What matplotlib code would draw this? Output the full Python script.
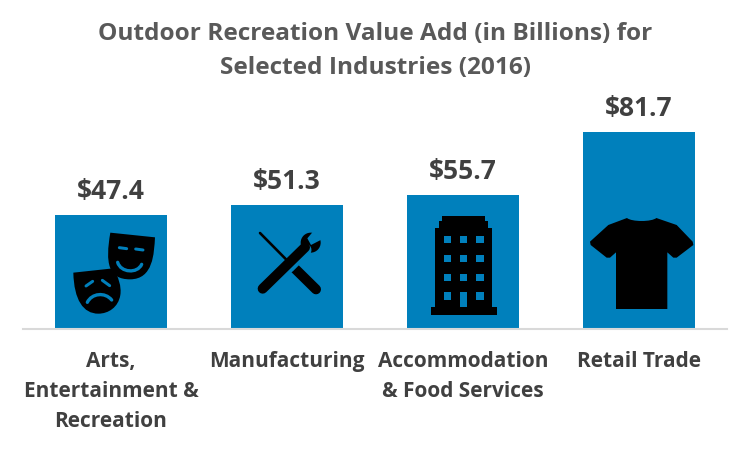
import matplotlib
matplotlib.use("Agg")
import matplotlib.pyplot as plt
from matplotlib.path import Path
from matplotlib.patches import PathPatch, Polygon, Rectangle, Circle

categories = ["Arts,\nEntertainment &\nRecreation", "Manufacturing",
              "Accommodation\n& Food Services", "Retail Trade"]
values = [47.4, 51.3, 55.7, 81.7]
value_labels = ["$47.4", "$51.3", "$55.7", "$81.7"]
title = "Outdoor Recreation Value Add (in Billions) for\nSelected Industries (2016)"

BLUE = "#0080BC"
DARK = "#404040"
plt.rcParams["font.family"] = ["Open Sans", "DejaVu Sans"]

fig = plt.figure(figsize=(7.5, 4.49), dpi=100)

# bars, 704px wide plot with baseline at y=328
ax = fig.add_axes([23 / 750, 1 - 328.5 / 449, 704 / 750, 270 / 449])
x = list(range(len(values)))
ax.bar(x, values, width=112 / 176, color=BLUE)
ax.set_xlim(-0.5, 3.5)
ax.set_ylim(0, 270 / 2.4)
for s in ["top", "left", "right"]:
    ax.spines[s].set_visible(False)
ax.spines["bottom"].set_color("#D9D9D9")
ax.spines["bottom"].set_linewidth(1.5)
ax.set_yticks([])
ax.set_xticks(x)
ax.set_xticklabels(categories, fontsize=15, fontweight="bold", color=DARK, linespacing=1.55)
ax.tick_params(axis="x", length=0, pad=16.5)
for xi, v, lab in zip(x, values, value_labels):
    ax.annotate(lab, (xi, v), xytext=(0, 7.2), textcoords="offset points", ha="center", va="bottom",
                fontsize=19, fontweight="bold", color=DARK)

fig.text(375 / 750, 1 - 51 / 449, title, ha="center", va="center", fontsize=17.6,
         fontweight="bold", color="#595959", linespacing=1.55)

# overlay in pixel coordinates for the icons
ov = fig.add_axes([0, 0, 1, 1])
ov.set_xlim(0, 750)
ov.set_ylim(449, 0)
ov.axis("off")
ov.patch.set_alpha(0)


def z1(p):
    return (50 + p[0] / 3, 200 + p[1] / 3)


def z2(p):
    return (400 + p[0] / 3, 120 + p[1] / 3)


def curve(start, segs, conv, closed=True):
    verts, codes = [conv(start)], [Path.MOVETO]
    for seg in segs:
        verts += [conv(q) for q in seg]
        codes += [Path.LINETO] if len(seg) == 1 else [Path.CURVE4] * 3
    if closed:
        verts.append(conv(start))
        codes.append(Path.CLOSEPOLY)
    return Path(verts, codes)


def stroke(pts, lw, color, conv=z1):
    xs, ys = zip(*[conv(p) for p in pts])
    ov.plot(xs, ys, color=color, lw=lw * 0.72, solid_capstyle="round")


def blob(path, color="black"):
    ov.add_patch(PathPatch(path, fc=color, ec="none"))


# masks
blob(curve((181, 98), [[(315, 112)], [(312, 160), (310, 238), (240, 238)],
                       [(175, 238), (165, 190), (181, 98)]], z1))
stroke([(208, 143), (230, 146)], 3, BLUE)
stroke([(257, 147), (279, 150)], 3, BLUE)
ov.add_patch(PathPatch(curve((203, 187), [[(212, 218), (262, 222), (275, 193)]], z1, closed=False),
                       fc="none", ec=BLUE, lw=2.4, capstyle="round"))
blob(curve((70, 218), [[(190, 205)], [(205, 230), (215, 260), (211, 285)],
                       [(205, 322), (175, 341), (145, 341)], [(100, 341), (72, 300), (70, 218)]], z1))
stroke([(108, 258), (128, 244)], 3, BLUE)
stroke([(157, 241), (179, 257)], 3, BLUE)
ov.add_patch(PathPatch(curve((112, 307), [[(125, 280), (165, 275), (185, 300)]], z1, closed=False),
                       fc="none", ec=BLUE, lw=2.4, capstyle="round"))

# screwdriver and wrench
stroke([(630, 99), (720, 190)], 2.6, "black")
stroke([(732, 203), (798, 268)], 10, "black")
stroke([(765, 150), (715, 200)], 13, BLUE)
stroke([(638, 266), (765, 142)], 10, "black")
ov.add_patch(Circle(z1((782, 128)), 10, fc="black", ec="none"))
ov.add_patch(Polygon([z1(p) for p in [(793, 90), (772, 115), (783, 135), (816, 118), (830, 85)]],
                     fc=BLUE, ec="none"))
ov.add_patch(Circle(z1((638, 266)), 1.5, fc=BLUE, ec="none"))

# building
building = [(92, 585), (92, 560), (106, 560), (106, 324), (117, 324), (117, 302), (127, 302), (127, 288),
            (254, 288), (254, 302), (265, 302), (265, 324), (276, 324), (276, 560), (290, 560), (290, 585)]
ov.add_patch(Polygon([z2(p) for p in building], fc="black", ec="none"))
for wy in [348, 404, 461, 517]:
    for wx in [131, 180, 229]:
        if wx == 180 and wy == 517:
            continue
        x0, y0 = z2((wx, wy))
        ov.add_patch(Rectangle((x0, y0), 7.3, 7.3, fc=BLUE, ec="none"))
x0, y0 = z2((180, 517))
ov.add_patch(Rectangle((x0, y0), 7.3, 14.5, fc=BLUE, ec="none"))

# t-shirt
blob(curve((681, 294), [[(695, 306), (755, 306), (769, 294)], [(830, 315)], [(878, 365)], [(880, 375)],
                        [(830, 413)], [(820, 413)], [(802, 397)], [(802, 567)], [(648, 567)], [(648, 397)],
                        [(630, 413)], [(620, 413)], [(572, 375)], [(570, 365)], [(625, 315)]], z2))

fig.savefig("out.png", dpi=100)
